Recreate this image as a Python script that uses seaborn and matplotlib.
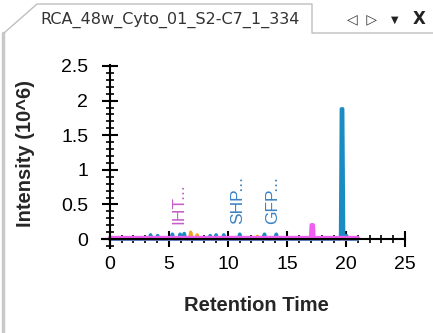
import matplotlib
matplotlib.use("Agg")
import matplotlib.pyplot as plt
from matplotlib.ticker import MultipleLocator
from matplotlib.lines import Line2D
import seaborn as sns
import pandas as pd

# ---- data ----
blue_rt = [0.0, 3.35, 3.45, 3.55, 3.95, 4.05, 4.15, 5.2, 5.3, 5.4, 5.85, 5.95, 6.05,
           6.2, 6.3, 6.4, 8.4, 8.5, 8.6, 8.9, 9.0, 9.1, 9.55, 9.65, 9.75, 10.9, 11.0,
           11.1, 13.0, 13.1, 13.2, 14.0, 14.1, 14.2, 19.55, 19.62, 19.72, 19.8, 19.95,
           20.05, 20.15, 21.0]
blue_int = [0.0, 0.0, 0.06, 0.0, 0.0, 0.05, 0.0, 0.0, 0.07, 0.0, 0.0, 0.07, 0.0,
            0.0, 0.08, 0.0, 0.0, 0.05, 0.0, 0.0, 0.06, 0.0, 0.0, 0.06, 0.0, 0.0, 0.07,
            0.0, 0.0, 0.07, 0.0, 0.0, 0.07, 0.0, 0.0, 1.88, 1.88, 0.0, 0.0,
            0.05, 0.0, 0.0]

orange_rt = [0.0, 6.75, 6.85, 6.95, 7.3, 7.4, 7.5, 12.4, 12.5, 12.6, 21.0]
orange_int = [0.0, 0.0, 0.1, 0.0, 0.0, 0.06, 0.0, 0.0, 0.04, 0.0, 0.0]

magenta_rt = [0.0, 17.05, 17.1, 17.2, 17.25, 21.0]
magenta_int = [0.015, 0.015, 0.2, 0.2, 0.015, 0.015]

peak_labels = ["IHT...", "SHP...", "GFP..."]
peak_label_rt = [5.85, 10.85, 13.8]
peak_label_y = [0.22, 0.22, 0.22]
peak_label_colors = ["#c75dc7", "#3b82c4", "#3b82c4"]

x_ticks = [0, 5, 10, 15, 20, 25]
y_ticks = [0, 0.5, 1, 1.5, 2, 2.5]
y_tick_labels = ["0", "0.5", "1", "1.5", "2", "2.5"]

title_tab = "RCA_48w_Cyto_01_S2-C7_1_334"

df = pd.concat([
    pd.DataFrame({"rt": blue_rt, "intensity": blue_int, "trace": "blue"}),
    pd.DataFrame({"rt": orange_rt, "intensity": orange_int, "trace": "orange"}),
    pd.DataFrame({"rt": magenta_rt, "intensity": magenta_int, "trace": "magenta"}),
], ignore_index=True)

# ---- style ----
sns.set_style("ticks")
plt.rcParams["font.family"] = ["Liberation Sans", "DejaVu Sans"]

fig = plt.figure(figsize=(4.33, 3.33), dpi=100)
fig.patch.set_facecolor("white")
ax = fig.add_axes([0.236, 0.255, 0.700, 0.551])
ax.set_facecolor("none")

palette = {"blue": "#1a8cc4", "orange": "#f4a020", "magenta": "#f060f0"}
widths = {"blue": 2.6, "orange": 2.4, "magenta": 3.2}
zorders = {"blue": 3, "orange": 2.5, "magenta": 4}
for name in ["orange", "blue", "magenta"]:
    sub = df[df["trace"] == name]
    sns.lineplot(data=sub, x="rt", y="intensity", ax=ax, color=palette[name],
                 linewidth=widths[name], sort=False, estimator=None, legend=False,
                 zorder=zorders[name])

for lab, rx, ry, c in zip(peak_labels, peak_label_rt, peak_label_y, peak_label_colors):
    ax.text(rx, ry, lab, rotation=90, ha="center", va="bottom", color=c, fontsize=12.5)

ax.set_xlim(-0.65, 25.03)
ax.set_ylim(-0.13, 2.52)
ax.spines["left"].set_position(("data", 0))
ax.spines["bottom"].set_position(("data", 0))
ax.spines["top"].set_visible(False)
ax.spines["right"].set_visible(False)
for s in ["left", "bottom"]:
    ax.spines[s].set_linewidth(1.5)
    ax.spines[s].set_color("black")
    ax.spines[s].set_zorder(5)

ax.set_xticks(x_ticks)
ax.set_xticklabels([str(t) for t in x_ticks])
ax.set_yticks(y_ticks)
ax.set_yticklabels(y_tick_labels)
ax.xaxis.set_minor_locator(MultipleLocator(1))
ax.yaxis.set_minor_locator(MultipleLocator(0.1))
ax.tick_params(which="major", direction="inout", length=11, width=1.5,
               labelsize=14, colors="black")
ax.tick_params(axis="x", which="major", pad=7)
ax.tick_params(axis="y", which="major", pad=10)
ax.tick_params(which="minor", direction="inout", length=6, width=1.2, colors="black")

ax.set_xlabel("Retention Time", fontsize=14.5, fontweight="bold")
ax.set_ylabel("Intensity (10^6)", fontsize=14.5, fontweight="bold")
ax.xaxis.set_label_coords(0.51, -0.26)
ax.yaxis.set_label_coords(-0.222, 0.515)

# ---- tab frame decoration ----
W, H = 433.0, 333.0
def fx(p): return p / W
def fy(p): return 1 - p / H
gray = "#bfbfbf"
fig.add_artist(Line2D([fx(3), fx(3)], [fy(33), fy(333)], color="#c8c8c8", lw=2.5))
fig.add_artist(Line2D([fx(4), fx(37), fx(312), fx(312), fx(433)],
                      [fy(33), fy(4), fy(4), fy(33), fy(33)], color=gray, lw=1))
fig.text(fx(170), fy(20), title_tab, ha="center", va="center", fontsize=11.5,
         color="#333333", family=["DejaVu Sans"])
fig.text(fx(362), fy(19), "◁  ▷", ha="center", va="center", fontsize=10,
         color="#333333", family=["DejaVu Sans"])
fig.text(fx(395), fy(20), "▼", ha="center", va="center", fontsize=7,
         color="#222222", family=["DejaVu Sans"])
fig.text(fx(419), fy(19), "X", ha="center", va="center", fontsize=12,
         color="#222222", family=["DejaVu Sans"], fontweight="bold")

fig.savefig("out.png", dpi=100)
